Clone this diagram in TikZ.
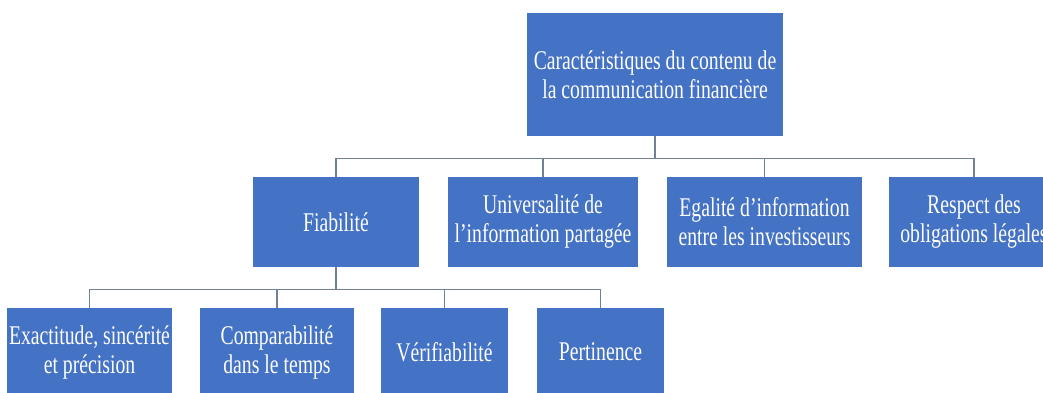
\documentclass[tikz,border=0pt]{standalone}
\usepackage{fontspec}
\setmainfont[FakeStretch=0.73]{Liberation Serif}
\usepackage{tikz}
\usetikzlibrary{calc}

\definecolor{boxblue}{RGB}{68,114,196}
\definecolor{linegrey}{RGB}{112,128,150}

\begin{document}
\begin{tikzpicture}[x=1pt,y=-1pt]

\tikzset{
    carac/.style={fill=boxblue, text=white, inner sep=0pt, align=center,
        font=\fontsize{27}{29}\selectfont},
    conn/.style={draw=linegrey, line width=1.3pt}
}
\clip (0,0) rectangle (1043,392);

% top of the tree
\node[carac, minimum width=256pt, minimum height=123pt] (root) at (655,74.5)
    {Caractéristiques du contenu de\\la communication financière};

% second level
\node[carac, minimum width=166pt, minimum height=90pt] (fiab) at (336,222) {Fiabilité};
\node[carac, minimum width=190pt, minimum height=90pt] (univ) at (543,222)
    {Universalité de\\l’information partagée};
\node[carac, minimum width=195pt, minimum height=90pt] (egal) at (764.5,222)
    {Egalité d’information\\entre les investisseurs};
\node[carac, minimum width=170pt, minimum height=90pt] (resp) at (974,222)
    {Respect des\\obligations légales};

% under Fiabilite
\node[carac, minimum width=165pt, minimum height=88pt] (exact) at (89.5,352)
    {Exactitude, sincérité\\et précision};
\node[carac, minimum width=154pt, minimum height=88pt] (compar) at (277,352)
    {Comparabilité\\dans le temps};
\node[carac, minimum width=127pt, minimum height=88pt] (verif) at (444.5,352) {Vérifiabilité};
\node[carac, minimum width=127pt, minimum height=88pt] (pert) at (600.5,352) {Pertinence};

\coordinate (bus1) at ($(root.south)+(0,22)$);
\coordinate (bus2) at ($(fiab.south)+(0,22)$);

\draw[conn] (root.south) -- (bus1);
\foreach \n in {fiab,univ,egal,resp}
    \draw[conn] (bus1) -| (\n.north);
\draw[conn] (fiab.south) -- (bus2);
\foreach \n in {exact,compar,verif,pert}
    \draw[conn] (bus2) -| (\n.north);
\end{tikzpicture}
\end{document}
